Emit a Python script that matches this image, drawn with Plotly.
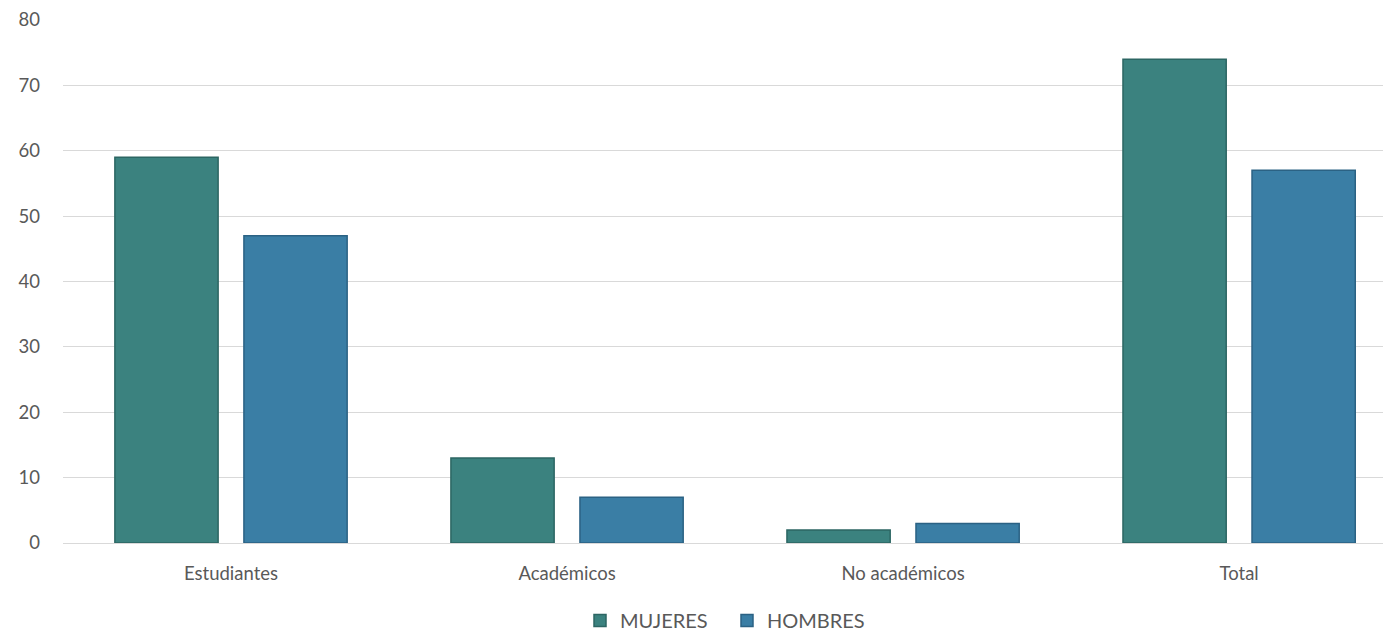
import plotly.graph_objects as go

categories = ["Estudiantes", "Académicos", "No académicos", "Total"]
mujeres = [59, 13, 2, 74]
hombres = [47, 7, 3, 57]
y_ticks = [0, 10, 20, 30, 40, 50, 60, 70, 80]

fig = go.Figure()
fig.add_trace(go.Bar(
    x=categories, y=mujeres, name="MUJERES",
    marker=dict(color="#3b827f", line=dict(color="#2c6663", width=1.5)),
))
fig.add_trace(go.Bar(
    x=categories, y=hombres, name="HOMBRES",
    marker=dict(color="#3a7ea5", line=dict(color="#2b6284", width=1.5)),
))

font_family = "Lato, 'Open Sans', sans-serif"
fig.update_layout(
    width=1391, height=632,
    margin=dict(l=55, r=8, t=12, b=97, autoexpand=False),
    paper_bgcolor="white", plot_bgcolor="white",
    barmode="group", bargap=0.232, bargroupgap=0.2,
    font=dict(family=font_family, size=18, color="#595959"),
    showlegend=True,
    legend=dict(orientation="h", x=0.5, xanchor="center", y=0.0, yanchor="bottom",
                yref="container", font=dict(size=20, color="#595959"), itemwidth=30,
                entrywidth=102, entrywidthmode="pixels"),
    xaxis=dict(range=[-0.5, 3.452], showgrid=False, showline=True, automargin=False,
               linecolor="#d9d9d9", linewidth=1, ticks="", ticklabelstandoff=14,
               tickfont=dict(size=18.5, color="#595959")),
    yaxis=dict(range=[0, 80], tickvals=y_ticks, showgrid=True, gridcolor="#d9d9d9",
               gridwidth=1, zeroline=False, ticks="", ticklabelstandoff=22, automargin=False,
               tickfont=dict(size=18.5, color="#595959")),
)
fig.write_html("out.html")
